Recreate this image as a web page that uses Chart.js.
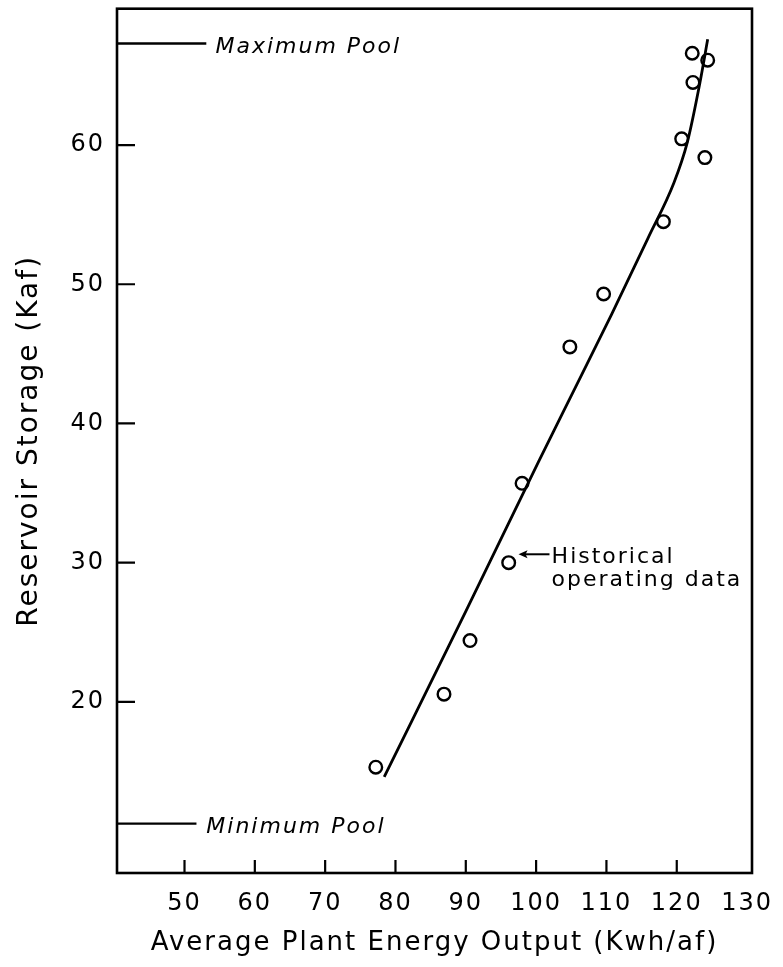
<!DOCTYPE html>
<html>
<head>
<meta charset="utf-8">
<script src="https://cdn.jsdelivr.net/npm/chart.js@4.4.1/dist/chart.umd.min.js"></script>
<style>
  html, body { margin: 0; padding: 0; background: #fff; }
  #wrap { width: 783px; height: 967px; }
</style>
</head>
<body>
<div id="wrap"><canvas id="chart"></canvas></div>
<script>
// historical operating data
const histOutput  = [77.2, 86.9, 90.6, 96.1, 98.0, 104.8, 109.6, 118.1, 120.7, 124.0, 122.3, 122.2, 124.4];
const histStorage = [15.3, 20.55, 24.4, 30.0, 35.7, 45.5, 49.3, 54.5, 60.45, 59.1, 64.5, 66.6, 66.1];

// fitted curve
const curveOutput  = [78.4, 90.0, 100.3, 105.5, 110.7, 115.9, 119.6, 121.5, 123.3, 124.4];
const curveStorage = [14.6, 26.5, 37.2, 42.5, 47.8, 53.3, 57.3, 60.2, 64.5, 67.6];

// axes
const xTicks = [50, 60, 70, 80, 90, 100, 110, 120, 130];
const xTickMarks = [50, 60, 70, 80, 90, 100, 110, 120];
const yTicks = [20, 30, 40, 50, 60];
const xMin = 40.4, xMax = 130.7;
const yMin = 7.7, yMax = 69.8;

// pool levels
const maxPool = 67.3;
const minPool = 11.25;
const maxPoolEnd = 53.1;
const minPoolEnd = 51.7;

const FONT = '"DejaVu Sans", sans-serif';

const framePlugin = {
  id: 'frame',
  beforeLayout(chart) { chart.ctx.letterSpacing = '2px'; },
  beforeDraw(chart) { chart.ctx.letterSpacing = '2px'; },
  afterDraw(chart) {
    const { ctx, chartArea: a, scales: { x, y } } = chart;
    ctx.save();
    ctx.strokeStyle = '#000';
    ctx.fillStyle = '#000';

    // box round the plot
    ctx.lineWidth = 2.6;
    ctx.strokeRect(a.left, a.top, a.right - a.left, a.bottom - a.top);

    // tick marks point inwards
    ctx.lineWidth = 2.2;
    ctx.beginPath();
    xTickMarks.forEach(v => {
      const px = x.getPixelForValue(v);
      ctx.moveTo(px, a.bottom);
      ctx.lineTo(px, a.bottom - 13);
    });
    yTicks.forEach(v => {
      const py = y.getPixelForValue(v);
      ctx.moveTo(a.left, py);
      ctx.lineTo(a.left + 18, py);
    });
    ctx.stroke();

    // pool labels
    ctx.letterSpacing = '2px';
    ctx.font = 'italic 22px ' + FONT;
    ctx.textAlign = 'left';
    ctx.textBaseline = 'alphabetic';
    ctx.fillText('Maximum Pool', x.getPixelForValue(54.4), y.getPixelForValue(66.6));
    ctx.fillText('Minimum Pool', x.getPixelForValue(53.1), y.getPixelForValue(10.6));

    // note on historical data with arrow
    ctx.font = '22px ' + FONT;
    ctx.fillText('Historical', x.getPixelForValue(102.2), y.getPixelForValue(29.97));
    ctx.fillText('operating data', x.getPixelForValue(102.2), y.getPixelForValue(28.3));

    const ax0 = x.getPixelForValue(101.9), ax1 = x.getPixelForValue(97.5);
    const ay = y.getPixelForValue(30.6);
    ctx.lineWidth = 2;
    ctx.beginPath();
    ctx.moveTo(ax0, ay);
    ctx.lineTo(ax1 + 4, ay);
    ctx.stroke();
    ctx.beginPath();
    ctx.moveTo(ax1, ay);
    ctx.lineTo(ax1 + 9, ay - 4);
    ctx.lineTo(ax1 + 7, ay);
    ctx.lineTo(ax1 + 9, ay + 4);
    ctx.closePath();
    ctx.fill();

    ctx.restore();
  }
};

const histPoints = histOutput.map((v, i) => ({ x: v, y: histStorage[i] }));
const curvePoints = curveOutput.map((v, i) => ({ x: v, y: curveStorage[i] }));

new Chart(document.getElementById('chart'), {
  type: 'scatter',
  data: {
    datasets: [
      {
        type: 'line',
        label: 'Fitted curve',
        data: curvePoints,
        borderColor: '#000',
        borderWidth: 2.8,
        pointRadius: 0,
        cubicInterpolationMode: 'monotone',
        fill: false
      },
      {
        label: 'Historical operating data',
        data: histPoints,
        pointStyle: 'circle',
        pointRadius: 6.3,
        pointBorderWidth: 2.4,
        borderColor: '#000',
        backgroundColor: 'rgba(255,255,255,0)'
      },
      {
        type: 'line',
        label: 'Maximum Pool',
        data: [{ x: xMin, y: maxPool }, { x: maxPoolEnd, y: maxPool }],
        borderColor: '#000',
        borderWidth: 2.4,
        pointRadius: 0
      },
      {
        type: 'line',
        label: 'Minimum Pool',
        data: [{ x: xMin, y: minPool }, { x: minPoolEnd, y: minPool }],
        borderColor: '#000',
        borderWidth: 2.4,
        pointRadius: 0
      }
    ]
  },
  options: {
    responsive: true,
    maintainAspectRatio: false,
    animation: false,
    layout: { padding: { top: 7, right: 31, bottom: 0, left: 0 } },
    plugins: { legend: { display: false }, tooltip: { enabled: false } },
    scales: {
      x: {
        type: 'linear',
        min: xMin,
        max: xMax,
        grid: { display: false, drawTicks: false },
        border: { display: false },
        afterBuildTicks: s => { s.ticks = xTicks.map(v => ({ value: v })); },
        afterFit: s => { s.height = 94; s.paddingLeft = 0; s.paddingRight = 0; },
        ticks: { color: '#000', padding: 16, maxRotation: 0, autoSkip: false, font: { family: FONT, size: 24 } },
        title: {
          display: true,
          text: 'Average Plant Energy Output (Kwh/af)',
          color: '#000',
          font: { family: FONT, size: 26 },
          padding: { top: 0, bottom: 8 }
        }
      },
      y: {
        type: 'linear',
        min: yMin,
        max: yMax,
        grid: { display: false, drawTicks: false },
        border: { display: false },
        afterBuildTicks: s => { s.ticks = yTicks.map(v => ({ value: v })); },
        afterFit: s => { s.width = 117; s.paddingTop = 0; s.paddingBottom = 0; },
        ticks: { color: '#000', padding: 12, font: { family: FONT, size: 24 } },
        title: {
          display: true,
          text: 'Reservoir Storage (Kaf)',
          color: '#000',
          font: { family: FONT, size: 28 },
          padding: { top: 13, bottom: 0 }
        }
      }
    }
  },
  plugins: [framePlugin]
});
</script>
</body>
</html>
